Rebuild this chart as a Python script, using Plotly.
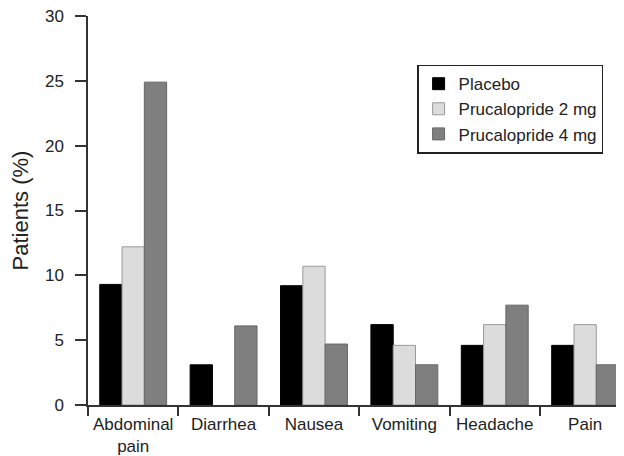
import plotly.graph_objects as go

categories = ["Abdominal<br>pain", "Diarrhea", "Nausea", "Vomiting", "Headache", "Pain"]
placebo = [9.3, 3.1, 9.2, 6.2, 4.6, 4.6]
pru2 = [12.2, 0, 10.7, 4.6, 6.2, 6.2]
pru4 = [24.9, 6.1, 4.7, 3.1, 7.7, 3.1]
series_names = ["Placebo", "Prucalopride 2 mg", "Prucalopride 4 mg"]
y_ticks = [0, 5, 10, 15, 20, 25, 30]

fig = go.Figure()
styles = [("#000000", "#000000"), ("#dcdcdc", "#9a9a9a"), ("#7f7f7f", "#666666")]
for i, (name, vals) in enumerate(zip(series_names, [placebo, pru2, pru4])):
    fill, edge = styles[i]
    fig.add_trace(go.Bar(
        x=categories, y=vals, name=name, legendgroup=f"g{i}",
        marker=dict(color=fill, line=dict(color=edge, width=[1 if v > 0 else 0 for v in vals])),
    ))

# page body has an 8px margin, so the figure is 8px smaller and shifted
fig.update_layout(
    width=616, height=448,
    margin=dict(l=80, r=0, t=8, b=51, autoexpand=False),
    paper_bgcolor="white", plot_bgcolor="white",
    barmode="group", bargap=0.26, bargroupgap=0,
    font=dict(family="Liberation Sans, Arial, sans-serif", size=17, color="#222222"),
    showlegend=True,
    legend=dict(
        x=0.614, y=0.875, xanchor="left", yanchor="top",
        bordercolor="#222222", borderwidth=1.5, bgcolor="white",
        font=dict(size=17, color="#222222"),
        tracegroupgap=5, traceorder="normal",
    ),
    xaxis=dict(
        type="category", range=[-0.5, 5.43], automargin=False,
        showline=True, linecolor="#333333", linewidth=1.5,
        ticks="outside", tickson="boundaries", ticklen=9, tickwidth=1.5, tickcolor="#333333",
        ticklabelstandoff=3,
        showgrid=False, zeroline=False,
        tickfont=dict(size=17, color="#222222"),
    ),
    yaxis=dict(
        range=[0, 30], tickvals=y_ticks, automargin=False,
        showline=True, linecolor="#333333", linewidth=1.5,
        ticks="outside", ticklen=11, tickwidth=1.5, tickcolor="#333333",
        ticklabelstandoff=8, ticklabeloverflow="allow",
        showgrid=False, zeroline=False,
        tickfont=dict(size=17, color="#222222"),
        title=dict(text="Patients (%)", font=dict(size=22, color="#222222"), standoff=10),
    ),
)

fig.write_html("out.html")
